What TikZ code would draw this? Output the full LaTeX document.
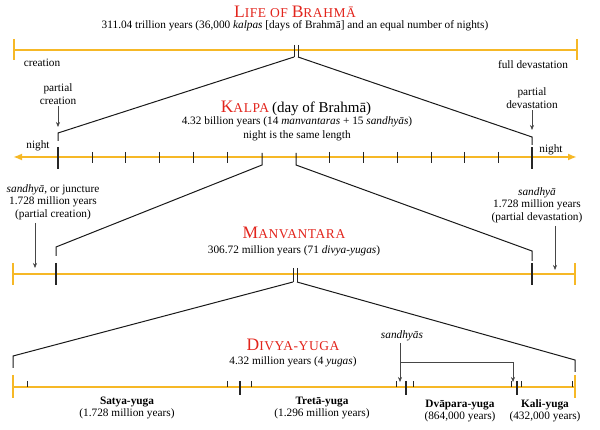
\documentclass[tikz,border=0pt]{standalone}
\usepackage{fontspec}
\setmainfont{Liberation Serif}
\newfontfamily\headfont[LetterSpace=4]{Liberation Serif}
\usepackage{tikz}
\usetikzlibrary{positioning,arrows.meta}
\definecolor{timeline}{RGB}{246,184,38}
\definecolor{headred}{RGB}{226,36,28}
\definecolor{pointergray}{RGB}{70,70,70}
\newcommand{\capbig}[1]{{\fontsize{17.5}{18}\selectfont #1}}
\newcommand{\capsml}[1]{{\fontsize{13.5}{14}\selectfont #1}}

\begin{document}
\begin{tikzpicture}[x=1pt,y=-1pt,
    txt/.style={inner sep=0pt,align=center,font=\fontsize{11.3}{12.5}\selectfont},
    heading/.style={inner sep=0pt,text=headred,font=\headfont},
    axis/.style={draw=timeline,line width=2pt},
    endtick/.style={draw=timeline,line width=1.3pt},
    tick/.style={draw=black!85,line width=0.8pt},
    thicktick/.style={draw=black!85,line width=2.2pt},
    bracket/.style={draw=black!90,line width=1pt},
    pointer/.style={draw=pointergray,line width=0.6pt,-{Stealth[length=5pt,width=4pt]}}]
\useasboundingbox (0,0) rectangle (600,430);

% life of brahma
\node[heading] (life) at (295,12) {\capbig{L}\capsml{IFE OF }\capbig{B}\capsml{RAHMĀ}};
\node[txt] (lifeyears) at (295,26) {311.04 trillion years (36,000 \textit{kalpas} [days of Brahmā] and an equal number of nights)};
\coordinate (lifeL) at (14,50);
\coordinate (lifeR) at (577,50);
\draw[axis] (lifeL) -- (lifeR);
\foreach \x in {14,577} \draw[endtick] (\x,39) -- (\x,60);
\foreach \x in {294,298} \draw[tick] (\x,45) -- (\x,57);
\node[txt] (creation) at (42,63) {creation};
\node[txt] (fulldev) at (533,65) {full devastation};

% kalpa
\coordinate (lifeml) at (294,57);
\coordinate (lifemr) at (298,57);
\coordinate (kalpacl) at (58,133);
\coordinate (kalpabl) at (58,141);
\coordinate (kalpacr) at (532,137);
\coordinate (kalpabr) at (532,145);
\draw[bracket] (lifeml) -- (kalpacl) -- (kalpabl);
\draw[bracket] (lifemr) -- (kalpacr) -- (kalpabr);
\node[txt] (pcreation) at (58,94) {partial\\creation};
\node[txt] (pdevast) at (532,98) {partial\\devastation};
\coordinate (pcreationtip) at (58,127);
\coordinate (pdevasttip) at (532,130);
\draw[pointer] ([yshift=-2pt]pcreation.south) -- (pcreationtip);
\draw[pointer] ([yshift=-2pt]pdevast.south) -- (pdevasttip);
\node[heading] (kalpa) at (296,108) {\capbig{K}\capsml{ALPA} {\normalfont\color{black}\fontsize{15}{16}\selectfont (day of Brahmā)}};
\node[txt,font=\fontsize{11.3}{13.5}\selectfont] (kalpayears) at (297,129) {4.32 billion years (14 \textit{manvantaras} + 15 \textit{sandhyās})\\night is the same length};
\coordinate (kalpaL) at (13,157);
\coordinate (kalpaR) at (577,157);
\draw[axis,{Latex[length=9pt,width=7pt]}-{Latex[length=9pt,width=7pt]}] (kalpaL) -- (kalpaR);
\foreach \k in {1,2,3,4,5,8,9,10,11,12,13} \draw[tick] (58+33.9*\k,152) -- (58+33.9*\k,163);
\foreach \x in {58,532} \draw[thicktick] (\x,147) -- (\x,169);
\node[txt] (nightl) at (38,146) {night};
\node[txt] (nightr) at (551,150) {night};

% manvantara
\coordinate (kalpasl) at (262,153);
\coordinate (kalpadl) at (262,165);
\coordinate (kalpasr) at (296,153);
\coordinate (kalpadr) at (296,165);
\coordinate (manvcl) at (56,247);
\coordinate (manvbl) at (56,256);
\coordinate (manvcr) at (532,251);
\coordinate (manvbr) at (532,261);
\draw[bracket] (kalpasl) -- (kalpadl) -- (manvcl) -- (manvbl);
\draw[bracket] (kalpasr) -- (kalpadr) -- (manvcr) -- (manvbr);
\node[txt] (sandhyal) at (53,202) {\textit{sandhyā}, or juncture\\1.728 million years\\(partial creation)};
\node[txt] (sandhyar) at (537,205) {\textit{sandhyā}\\1.728 million years\\(partial devastation)};
\coordinate (sandhyaltail) at (35,223);
\coordinate (sandhyaltip) at (35,268);
\coordinate (sandhyartail) at (555,226);
\coordinate (sandhyartip) at (555,270);
\draw[pointer] (sandhyaltail) -- (sandhyaltip);
\draw[pointer] (sandhyartail) -- (sandhyartip);
\node[heading] (manv) at (294,233) {\capbig{M}\capsml{ANVANTARA}};
\node[txt] (manvyears) at (294,251) {306.72 million years (71 \textit{divya-yugas})};
\coordinate (manvL) at (13,274);
\coordinate (manvR) at (575,274);
\draw[axis] (manvL) -- (manvR);
\foreach \x in {13,575} \draw[endtick] (\x,263) -- (\x,285);
\foreach \x in {56,532} \draw[thicktick] (\x,263) -- (\x,285);
\foreach \x in {293,297} \draw[tick] (\x,268) -- (\x,282);

% divya-yuga
\coordinate (manvml) at (293,282);
\coordinate (manvmr) at (297,282);
\coordinate (divycl) at (13,356);
\coordinate (divybl) at (13,368);
\coordinate (divycr) at (575,360);
\coordinate (divybr) at (575,372);
\draw[bracket] (manvml) -- (divycl) -- (divybl);
\draw[bracket] (manvmr) -- (divycr) -- (divybr);
\node[heading] (divya) at (293,345) {\capbig{D}\capsml{IVYA-YUGA}};
\node[txt] (divyayears) at (293,362) {4.32 million years (4 \textit{yugas})};
\coordinate (divyL) at (13,387);
\coordinate (divyR) at (575,387);
\draw[axis] (divyL) -- (divyR);
\foreach \x in {13,575} \draw[endtick] (\x,375) -- (\x,398);
\foreach \x in {27,227,251,396,413,511,521,572} \draw[tick] (\x,381) -- (\x,387);
\foreach \x in {240,406,517} \draw[tick,line width=1.1pt] (\x,381) -- (\x,395);
\node[txt] (satya) at (127,408) {\textbf{Satya-yuga}\\(1.728 million years)};
\node[txt] (treta) at (322,408) {\textbf{Tretā-yuga}\\(1.296 million years)};
\node[txt] (dvapara) at (460,411) {\textbf{Dvāpara-yuga}\\(864,000 years)};
\node[txt] (kali) at (545,411) {\textbf{Kali-yuga}\\(432,000 years)};
\node[txt] (sandhyas) at (402,336) {\textit{sandhyās}};
\coordinate (sandhyastail) at (400,343);
\coordinate (sandhyasfork) at (400,362);
\coordinate (dvaparatip) at (400,382);
\coordinate (kalitop) at (513,362);
\coordinate (kalitip) at (513,382);
\draw[pointer] (sandhyastail) -- (dvaparatip);
\draw[pointer] (sandhyasfork) -- (kalitop) -- (kalitip);
\end{tikzpicture}
\end{document}
